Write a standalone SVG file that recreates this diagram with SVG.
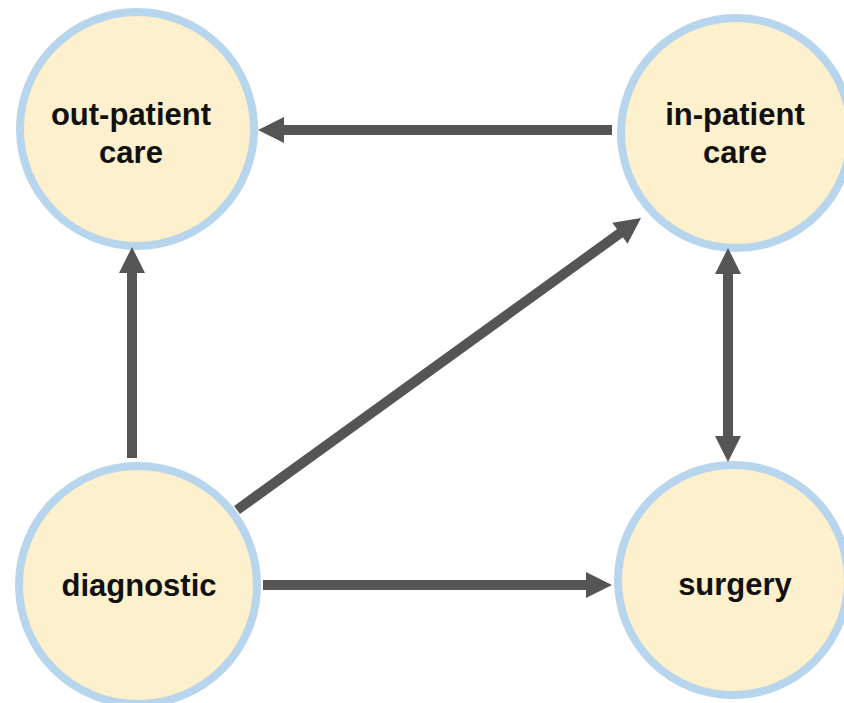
<svg xmlns="http://www.w3.org/2000/svg" width="844" height="703" viewBox="0 0 844 703">
<style>
.node circle{fill:#FDF0CC;stroke:#B7D5EC;stroke-width:8}
.node text{font-family:"Liberation Sans",Arial,sans-serif;font-weight:bold;font-size:31px;fill:#111;text-anchor:middle}
.edge{stroke:#555;stroke-width:10;fill:none}
</style>
<defs>
<marker id="ah" viewBox="0 0 26 26" refX="4" refY="13" markerWidth="26" markerHeight="26" markerUnits="userSpaceOnUse" orient="auto-start-reverse" overflow="visible">
<path d="M0,0 L26,13 L0,26 Z" fill="#555"/>
</marker>
</defs>
<rect width="844" height="703" fill="#fff"/>
<g id="n-out"><g class="node"><circle cx="137" cy="129" r="117"/><text x="131" y="125">out-patient</text><text x="131" y="163">care</text></g></g>
<g id="n-in"><g class="node"><circle cx="736" cy="133" r="115"/><text x="735" y="125">in-patient</text><text x="735" y="163">care</text></g></g>
<g id="n-diag"><g class="node"><circle cx="138" cy="585" r="119"/><text x="139" y="596">diagnostic</text></g></g>
<g id="n-surg"><g class="node"><circle cx="733" cy="580" r="115"/><text x="735" y="595">surgery</text></g></g>
<g id="edges">
<line class="edge" x1="612" y1="130" x2="280" y2="130" marker-end="url(#ah)"/>
<line class="edge" x1="132" y1="458" x2="132" y2="269" marker-end="url(#ah)"/>
<line class="edge" x1="237" y1="510" x2="623.2" y2="230.9" marker-end="url(#ah)"/>
<line class="edge" x1="263" y1="585" x2="590" y2="585" marker-end="url(#ah)"/>
<line class="edge" x1="728" y1="270" x2="728" y2="440" marker-start="url(#ah)" marker-end="url(#ah)"/>
</g>
</svg>
